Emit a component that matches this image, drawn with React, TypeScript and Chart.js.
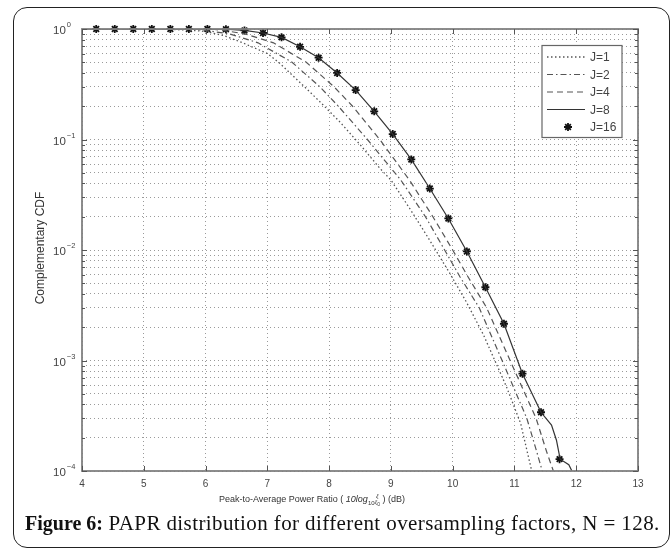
import React, { useEffect, useRef } from "react";
import { Chart, registerables } from "chart.js";

Chart.register(...registerables);

// ---- axis ticks ----
const xTickValues = [4, 5, 6, 7, 8, 9, 10, 11, 12, 13];
const xTickLabels = ["4", "5", "6", "7", "8", "9", "10", "11", "12", "13"];
const yDecades = [1, 1e-1, 1e-2, 1e-3, 1e-4];
const yExponentLabels = ["0", "\u22121", "\u22122", "\u22123", "\u22124"];
const yMinorFactors = [2, 3, 4, 5, 6, 7, 8, 9];

// ---- series (x in dB, y = CCDF) ----
const j1X = [4.0, 5.0, 5.5, 5.8, 6.0, 6.3, 6.6, 7.0, 7.2, 7.5, 7.85, 8.17, 8.5, 8.82, 9.0, 9.3, 9.6, 9.95, 10.22, 10.5, 10.87, 11.1, 11.28];
const j1Y = [1, 0.999, 0.99, 0.97, 0.95, 0.87, 0.75, 0.6, 0.49, 0.34, 0.22, 0.145, 0.09, 0.055, 0.043, 0.024, 0.013, 0.0062, 0.0034, 0.0017, 0.00058, 0.00027, 0.0001];

const j2X = [4.0, 5.6, 5.85, 6.0, 6.4, 6.85, 7.4, 7.85, 8.15, 8.62, 9.16, 9.56, 9.87, 10.12, 10.43, 10.8, 11.2, 11.36, 11.45];
const j2Y = [1, 0.999, 0.99, 0.97, 0.9, 0.75, 0.5, 0.3, 0.2, 0.1, 0.043, 0.02, 0.01, 0.0057, 0.003, 0.001, 0.0003, 0.00015, 0.0001];

const j4X = [4.0, 5.9, 6.15, 6.3, 6.65, 7.1, 7.63, 8.08, 8.38, 8.82, 9.3, 9.68, 10.0, 10.25, 10.55, 10.93, 11.35, 11.52, 11.63];
const j4Y = [1, 0.999, 0.99, 0.97, 0.9, 0.75, 0.5, 0.3, 0.2, 0.1, 0.043, 0.02, 0.01, 0.0057, 0.003, 0.001, 0.0003, 0.00015, 0.0001];

const j8X = [4.0, 6.03, 6.33, 6.63, 6.93, 7.23, 7.53, 7.83, 8.13, 8.43, 8.73, 9.03, 9.33, 9.63, 9.93, 10.23, 10.53, 10.83, 11.13, 11.43, 11.6, 11.68, 11.74, 11.88, 11.93];
const j8Y = [1, 0.999, 0.995, 0.97, 0.92, 0.84, 0.69, 0.55, 0.4, 0.28, 0.18, 0.112, 0.066, 0.036, 0.0193, 0.0097, 0.0046, 0.00215, 0.00076, 0.00034, 0.00026, 0.00019, 0.000128, 0.000114, 0.0001];

const j16X = [4.23, 4.53, 4.83, 5.13, 5.43, 5.73, 6.03, 6.33, 6.63, 6.93, 7.23, 7.53, 7.83, 8.13, 8.43, 8.73, 9.03, 9.33, 9.63, 9.93, 10.23, 10.53, 10.83, 11.13, 11.43, 11.73];
const j16Y = [1, 1, 1, 1, 1, 1, 1, 0.995, 0.97, 0.92, 0.84, 0.69, 0.55, 0.4, 0.28, 0.18, 0.112, 0.066, 0.036, 0.0193, 0.0097, 0.0046, 0.00215, 0.00076, 0.00034, 0.000128];

const seriesLabels = ["J=1", "J=2", "J=4", "J=8", "J=16"];

const zip = (xs: number[], ys: number[]) => xs.map((x, i) => ({ x, y: ys[i] }));

const yGridValues: number[] = [];
yDecades.forEach((d) => {
  yGridValues.push(d);
  if (d < 1) yMinorFactors.forEach((f) => yGridValues.push(d * f));
});

const SANS = '"Liberation Sans", Arial, Helvetica, sans-serif';

const matlabPlugin = {
  id: "matlabDecor",
  afterDraw(chart: any) {
    const { ctx, chartArea: a, scales } = chart;
    const xs = scales.x;
    const ys = scales.y;
    ctx.save();
    ctx.setLineDash([]);

    // axes box
    ctx.strokeStyle = "#808080";
    ctx.lineWidth = 1.8;
    ctx.strokeRect(a.left, a.top, a.right - a.left, a.bottom - a.top);

    // tick marks
    ctx.strokeStyle = "#555";
    ctx.lineWidth = 1;
    const seg = (x1: number, y1: number, x2: number, y2: number) => {
      ctx.beginPath();
      ctx.moveTo(x1, y1);
      ctx.lineTo(x2, y2);
      ctx.stroke();
    };
    xTickValues.forEach((v) => {
      const px = Math.round(xs.getPixelForValue(v)) + 0.5;
      seg(px, a.bottom, px, a.bottom - 5);
      seg(px, a.top, px, a.top + 5);
    });
    yGridValues.forEach((v) => {
      const py = Math.round(ys.getPixelForValue(v)) + 0.5;
      const len = yDecades.includes(v) ? 5 : 3;
      seg(a.left, py, a.left + len, py);
      seg(a.right, py, a.right - len, py);
    });

    // x tick labels
    ctx.fillStyle = "#444";
    ctx.font = `10px ${SANS}`;
    ctx.textAlign = "center";
    ctx.textBaseline = "middle";
    xTickValues.forEach((v, i) => {
      ctx.fillText(xTickLabels[i], xs.getPixelForValue(v), a.bottom + 13);
    });

    // y tick labels 10^n
    yDecades.forEach((v, i) => {
      const py = ys.getPixelForValue(v);
      ctx.textAlign = "left";
      ctx.font = `11.5px ${SANS}`;
      ctx.fillText("10", 53, py + 2);
      const w = ctx.measureText("10").width;
      ctx.font = `7.5px ${SANS}`;
      ctx.fillText(yExponentLabels[i], 53 + w + 1, py - 4);
    });

    // y title
    ctx.save();
    ctx.translate(41, 248);
    ctx.rotate(-Math.PI / 2);
    ctx.font = `12px ${SANS}`;
    ctx.textAlign = "center";
    ctx.fillStyle = "#333";
    ctx.fillText("Complementary CDF", 0, 0);
    ctx.restore();

    // legend
    const lx = a.right - 96;
    const ly = a.top + 16.5;
    const lw = 80;
    const lh = 92;
    ctx.fillStyle = "#fff";
    ctx.fillRect(lx, ly, lw, lh);
    ctx.strokeStyle = "#666";
    ctx.lineWidth = 1.2;
    ctx.strokeRect(lx, ly, lw, lh);
    chart.data.datasets.forEach((ds: any, i: number) => {
      const ry = ly + 11.5 + i * 17.5;
      ctx.strokeStyle = ds.borderColor;
      ctx.lineWidth = ds.borderWidth;
      if (ds.showLine === false) {
        const cx = lx + 26;
        const r = ds.pointRadius;
        ctx.setLineDash([]);
        ctx.beginPath();
        ctx.moveTo(cx - r, ry);
        ctx.lineTo(cx + r, ry);
        ctx.moveTo(cx, ry - r);
        ctx.lineTo(cx, ry + r);
        const d = r * Math.SQRT1_2;
        ctx.moveTo(cx - d, ry - d);
        ctx.lineTo(cx + d, ry + d);
        ctx.moveTo(cx - d, ry + d);
        ctx.lineTo(cx + d, ry - d);
        ctx.stroke();
      } else {
        ctx.setLineDash(ds.borderDash || []);
        seg(lx + 5, ry, lx + 43, ry);
        ctx.setLineDash([]);
      }
      ctx.fillStyle = "#444";
      ctx.font = `12px ${SANS}`;
      ctx.textAlign = "left";
      ctx.textBaseline = "middle";
      ctx.fillText(ds.label, lx + 48, ry + 1);
    });

    ctx.restore();
  },
};

export default function App() {
  const canvasRef = useRef<HTMLCanvasElement | null>(null);

  useEffect(() => {
    const canvas = canvasRef.current;
    if (!canvas) return;
    const chart = new Chart(canvas, {
      type: "line",
      data: {
        datasets: [
          {
            label: seriesLabels[0],
            data: zip(j1X, j1Y),
            borderColor: "#555",
            borderWidth: 1.3,
            borderDash: [1.5, 2.5],
            pointRadius: 0,
            fill: false,
          },
          {
            label: seriesLabels[1],
            data: zip(j2X, j2Y),
            borderColor: "#555",
            borderWidth: 1.2,
            borderDash: [6, 3, 1.5, 3],
            pointRadius: 0,
            fill: false,
          },
          {
            label: seriesLabels[2],
            data: zip(j4X, j4Y),
            borderColor: "#555",
            borderWidth: 1.2,
            borderDash: [6, 4],
            pointRadius: 0,
            fill: false,
          },
          {
            label: seriesLabels[3],
            data: zip(j8X, j8Y),
            borderColor: "#333",
            borderWidth: 1.2,
            borderDash: [],
            pointRadius: 0,
            fill: false,
          },
          {
            label: seriesLabels[4],
            data: zip(j16X, j16Y),
            showLine: false,
            borderColor: "#111",
            backgroundColor: "#111",
            borderWidth: 1.8,
            pointStyle: "star",
            pointRadius: 4,
            clip: false,
          },
        ] as any,
      },
      options: {
        animation: false,
        responsive: false,
        layout: { padding: { left: 82, right: 33, top: 29, bottom: 79 } },
        plugins: { legend: { display: false }, tooltip: { enabled: false } },
        elements: { line: { tension: 0 } },
        scales: {
          x: {
            type: "linear",
            min: 4,
            max: 13,
            ticks: { display: false, stepSize: 1 },
            grid: { color: "#9a9a9a", lineWidth: 1, drawTicks: false },
            border: { display: false, dash: [1, 3] },
          },
          y: {
            type: "logarithmic",
            min: 1e-4,
            max: 1,
            ticks: { display: false },
            afterBuildTicks: (scale: any) => {
              scale.ticks = yGridValues.map((v) => ({ value: v }));
            },
            grid: { color: "#9a9a9a", lineWidth: 1, drawTicks: false },
            border: { display: false, dash: [1, 3] },
          },
        },
      } as any,
      plugins: [matlabPlugin],
    });
    return () => chart.destroy();
  }, []);

  return (
    <div style={{ position: "absolute", left: 0, top: 0, width: 671, height: 550, background: "#fff" }}>
      <canvas
        ref={canvasRef}
        width={671}
        height={550}
        style={{ position: "absolute", left: 0, top: 0, width: 671, height: 550 }}
      />
      <div
        style={{
          position: "absolute",
          left: 13,
          top: 7,
          width: 657,
          height: 541,
          border: "1.5px solid #222",
          borderRadius: 14,
          boxSizing: "border-box",
          pointerEvents: "none",
        }}
      />
      <div
        style={{
          position: "absolute",
          left: 162,
          width: 300,
          top: 493,
          textAlign: "center",
          fontFamily: SANS,
          fontSize: 9,
          lineHeight: "12px",
          color: "#333",
          whiteSpace: "nowrap",
        }}
      >
        Peak-to-Average Power Ratio ( <i>10log</i>
        <sub style={{ fontSize: 6 }}>10</sub>
        <span style={{ display: "inline-block", fontSize: 6, lineHeight: "6px", verticalAlign: "middle", textAlign: "center" }}>
          <i>ξ</i>
          <br />
          <i>ξ</i>
          <sub style={{ fontSize: 5 }}>0</sub>
        </span>{" "}
        ) (dB)
      </div>
      <div
        style={{
          position: "absolute",
          left: 25,
          top: 511,
          fontFamily: '"Liberation Serif", "Times New Roman", serif',
          fontSize: 21,
          lineHeight: "24px",
          color: "#111",
          whiteSpace: "nowrap",
        }}
      >
        <b style={{ fontSize: 20, letterSpacing: 0 }}>Figure 6:</b>
        <span style={{ letterSpacing: "0.4px" }}> PAPR distribution for different oversampling factors, N = 128.</span>
      </div>
    </div>
  );
}
